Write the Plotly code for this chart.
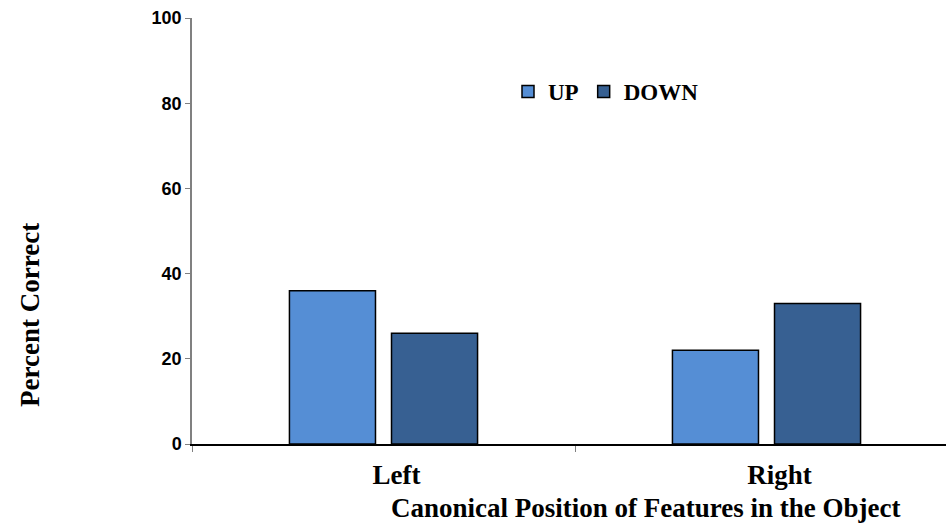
import plotly.graph_objects as go

categories = ["Left", "Right"]
up_values = [36, 22]
down_values = [26, 33]
y_ticks = [0, 20, 40, 60, 80, 100]

serif = "Liberation Serif, Times New Roman, serif"
sans = "Liberation Sans, Arial, sans-serif"

plot_w = 946 - 192

fig = go.Figure()
fig.add_trace(go.Bar(x=categories, y=up_values, name="<b>UP</b>",
                     marker=dict(color="#558ed5", line=dict(color="black", width=1.5))))
fig.add_trace(go.Bar(x=categories, y=down_values, name="<b>DOWN</b>",
                     marker=dict(color="#376092", line=dict(color="black", width=1.5))))

fig.layout.template = None
fig.update_layout(
    width=946, height=525,
    margin=dict(l=192, r=0, t=18, b=81, pad=0),
    plot_bgcolor="white", paper_bgcolor="white",
    barmode="group", bargap=0.467, bargroupgap=0.157,
    showlegend=True,
    legend=dict(orientation="h", x=(508 - 192) / plot_w, y=(444 - 70) / 426,
                xanchor="left", yanchor="top",
                font=dict(family=serif, size=23, color="black"),
                itemwidth=30, bgcolor="rgba(0,0,0,0)", traceorder="normal"),
    xaxis=dict(type="category", range=[-0.5, -0.5 + plot_w / 383], automargin=False,
               showline=True, linecolor="black", linewidth=1.5,
               tickson="boundaries", ticks="outside", ticklen=6, tickcolor="#808080",
               ticklabelstandoff=6, ticklabelshift=13,
               tickfont=dict(family=serif, size=27, color="black"),
               tickvals=categories, ticktext=["<b>Left</b>", "<b>Right</b>"],
               showgrid=False, zeroline=False),
    yaxis=dict(range=[0, 100], tickvals=y_ticks, automargin=False,
               ticktext=[f"<b>{v}</b>" for v in y_ticks],
               showline=True, linecolor="#808080", linewidth=1.5,
               ticks="outside", ticklen=5, tickcolor="#808080",
               tickfont=dict(family=sans, size=18, color="black"),
               showgrid=False, zeroline=False),
    annotations=[
        dict(text="<b>Percent Correct</b>", xref="paper", yref="paper",
             x=(30 - 192) / plot_w, y=(444 - 315) / 426, textangle=-90,
             xanchor="center", yanchor="middle",
             showarrow=False, font=dict(family=serif, size=27, color="black")),
        dict(text="<b>Canonical Position of Features in the Object</b>",
             xref="paper", yref="paper", x=(645 - 192) / plot_w, y=-(508 - 444) / 426,
             xanchor="center", yanchor="middle",
             showarrow=False, font=dict(family=serif, size=27, color="black")),
    ],
)

# drop the default body margin so the figure sits at the page corner
fig.write_html("out.html", config={"displayModeBar": False},
               post_script="document.body.style.margin='0';")
